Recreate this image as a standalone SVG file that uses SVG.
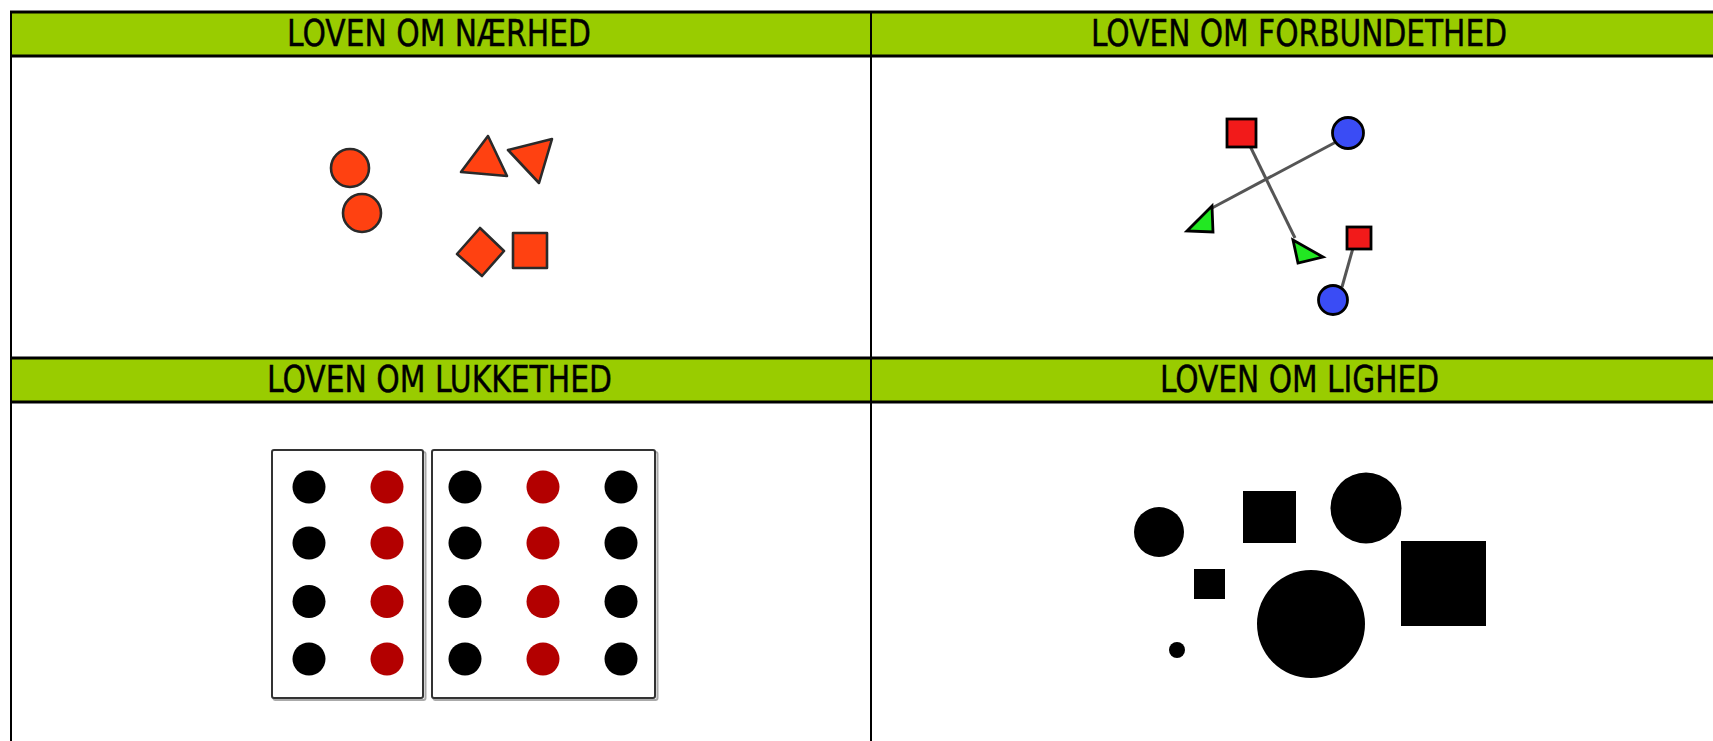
<svg xmlns="http://www.w3.org/2000/svg" width="1713" height="741" viewBox="0 0 1713 741">
<style>
.hdr{fill:#99cc00}
.ln{stroke:#000;stroke-width:3;fill:none}
.vl{stroke:#000;stroke-width:2;fill:none}
.ht{font-family:"DejaVu Sans Condensed","DejaVu Sans",sans-serif;font-size:38px;fill:#000;stroke:#000;stroke-width:0.4}
.prox{fill:#ff4111;stroke:#2a2a2a;stroke-width:2.6;stroke-linejoin:round}
.con{stroke:#555;stroke-width:3;fill:none}
.cs{stroke:#000;stroke-width:2.8}
.red{fill:#f21a1a}
.blue{fill:#3a4cf5}
.green{fill:#22e822}
.box{fill:#fff;stroke:#333;stroke-width:2}
.shadow{fill:none;stroke:#aaa;stroke-width:2}
.bk{fill:#000}
.rd{fill:#b30000}
</style>
<rect width="1713" height="741" fill="#fff"/>
<g id="grid">
<rect class="hdr" x="11" y="12" width="1702" height="44"/>
<rect class="hdr" x="11" y="358" width="1702" height="44"/>
<line class="ln" x1="10" y1="12" x2="1713" y2="12"/>
<line class="ln" x1="10" y1="56" x2="1713" y2="56"/>
<line class="ln" x1="10" y1="358" x2="1713" y2="358"/>
<line class="ln" x1="10" y1="402" x2="1713" y2="402"/>
<line class="vl" x1="11" y1="11" x2="11" y2="741"/>
<line class="vl" x1="871" y1="11" x2="871" y2="741"/>
</g>
<g id="titles">
<text class="ht" x="287" y="46" textLength="304" lengthAdjust="spacingAndGlyphs">LOVEN OM NÆRHED</text>
<text class="ht" x="1091" y="46" textLength="416" lengthAdjust="spacingAndGlyphs">LOVEN OM FORBUNDETHED</text>
<text class="ht" x="267" y="392" textLength="345" lengthAdjust="spacingAndGlyphs">LOVEN OM LUKKETHED</text>
<text class="ht" x="1160" y="392" textLength="279" lengthAdjust="spacingAndGlyphs">LOVEN OM LIGHED</text>
</g>
<g id="proximity">
<circle class="prox" cx="350" cy="168" r="19"/>
<circle class="prox" cx="362" cy="213" r="19"/>
<polygon class="prox" points="488,136 461,172 507,176"/>
<polygon class="prox" points="508,150 552,139 539,183"/>
<polygon class="prox" points="480,228 457,254 482,276 504,251"/>
<rect class="prox" x="513" y="233" width="34" height="35"/>
</g>
<g id="connectors">
<line class="con" x1="1250" y1="146" x2="1295" y2="238"/>
<line class="con" x1="1336" y1="142" x2="1212" y2="208"/>
<line class="con" x1="1353" y1="248" x2="1342" y2="287"/>
</g>
<g id="connectedness">
<rect class="cs red" x="1227" y="119" width="29" height="28"/>
<circle class="cs blue" cx="1348" cy="133" r="15.5"/>
<polygon class="cs green" points="1212,206 1187,231 1213,232"/>
<polygon class="cs green" points="1293,240 1298,263 1323,257"/>
<rect class="cs red" x="1347" y="227" width="24" height="22"/>
<circle class="cs blue" cx="1333" cy="300" r="14.5"/>
</g>
<g id="closure">
<rect class="shadow" x="273.5" y="452" width="152" height="248" rx="2"/>
<rect class="shadow" x="433.5" y="452" width="224" height="248" rx="2"/>
<rect class="box" x="272" y="450" width="151" height="248" rx="2"/>
<rect class="box" x="432" y="450" width="223" height="248" rx="2"/>
<circle class="bk" cx="309" cy="487" r="16.5"/>
<circle class="bk" cx="309" cy="543" r="16.5"/>
<circle class="bk" cx="309" cy="601.5" r="16.5"/>
<circle class="bk" cx="309" cy="659" r="16.5"/>
<circle class="rd" cx="387" cy="487" r="16.5"/>
<circle class="rd" cx="387" cy="543" r="16.5"/>
<circle class="rd" cx="387" cy="601.5" r="16.5"/>
<circle class="rd" cx="387" cy="659" r="16.5"/>
<circle class="bk" cx="465" cy="487" r="16.5"/>
<circle class="bk" cx="465" cy="543" r="16.5"/>
<circle class="bk" cx="465" cy="601.5" r="16.5"/>
<circle class="bk" cx="465" cy="659" r="16.5"/>
<circle class="rd" cx="543" cy="487" r="16.5"/>
<circle class="rd" cx="543" cy="543" r="16.5"/>
<circle class="rd" cx="543" cy="601.5" r="16.5"/>
<circle class="rd" cx="543" cy="659" r="16.5"/>
<circle class="bk" cx="621" cy="487" r="16.5"/>
<circle class="bk" cx="621" cy="543" r="16.5"/>
<circle class="bk" cx="621" cy="601.5" r="16.5"/>
<circle class="bk" cx="621" cy="659" r="16.5"/>
</g>
<g id="similarity">
<circle class="bk" cx="1159" cy="532" r="25"/>
<rect class="bk" x="1243" y="491" width="53" height="52"/>
<circle class="bk" cx="1366" cy="508" r="35.5"/>
<rect class="bk" x="1401" y="541" width="85" height="85"/>
<rect class="bk" x="1194" y="569" width="31" height="30"/>
<circle class="bk" cx="1311" cy="624" r="54"/>
<circle class="bk" cx="1177" cy="650" r="8"/>
</g>
</svg>
